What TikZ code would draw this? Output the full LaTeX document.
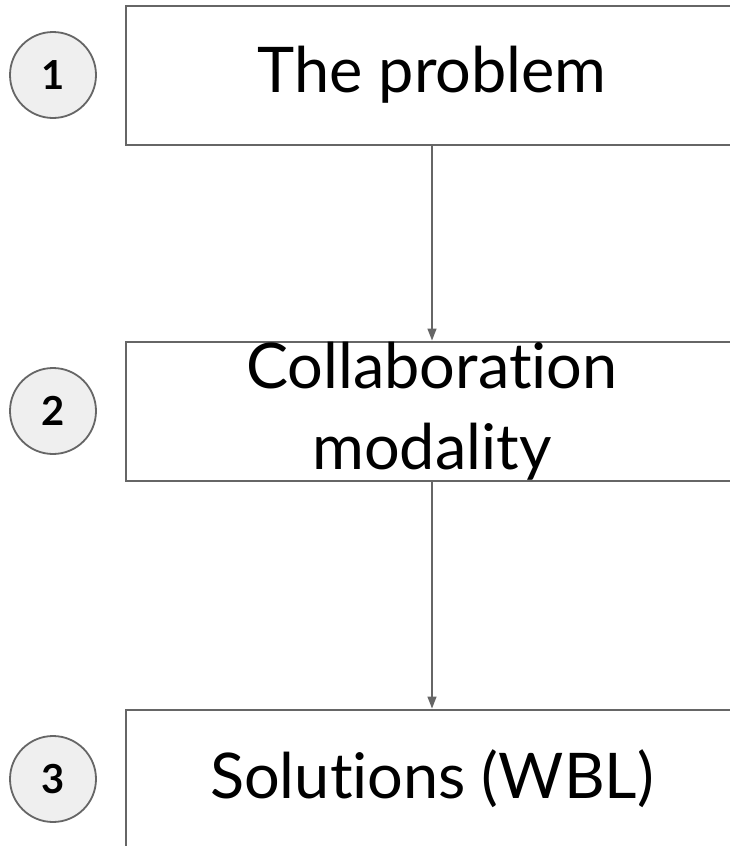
\documentclass[tikz,border=0pt]{standalone}
\usepackage{fontspec}
\setmainfont[Ligatures={NoCommon,NoRare}]{Lato}
\usetikzlibrary{arrows.meta}

\definecolor{linegray}{HTML}{666666}
\definecolor{discgray}{HTML}{EFEFEF}

\begin{document}
\begin{tikzpicture}[x=1pt,y=-1pt,
    stagebox/.style={draw=linegray,line width=2pt,minimum width=612pt,minimum height=139pt,
        inner sep=0pt,align=center,font=\fontsize{63}{81}\selectfont},
    numdisc/.style={circle,draw=linegray,line width=1.8pt,fill=discgray,minimum size=86pt,
        inner sep=0pt,font=\fontsize{40}{40}\selectfont\bfseries},
    flow/.style={draw=linegray,line width=1.5pt,-{Triangle[length=12pt,width=9pt]}}]
\useasboundingbox (0,0) rectangle (730,846);
\node[stagebox] (problem) at (432,75) {The problem};
\node[stagebox] (collab) at (432,411) {Collaboration\\modality};
\node[stagebox] (solutions) at (432,779) {Solutions (WBL)};
\node[numdisc] (one) at (53,75) {1};
\node[numdisc] (two) at (53,411) {2};
\node[numdisc] (three) at (53,779) {3};
\draw[flow] (problem) -- (collab);
\draw[flow] (collab) -- (solutions);
\end{tikzpicture}
\end{document}
